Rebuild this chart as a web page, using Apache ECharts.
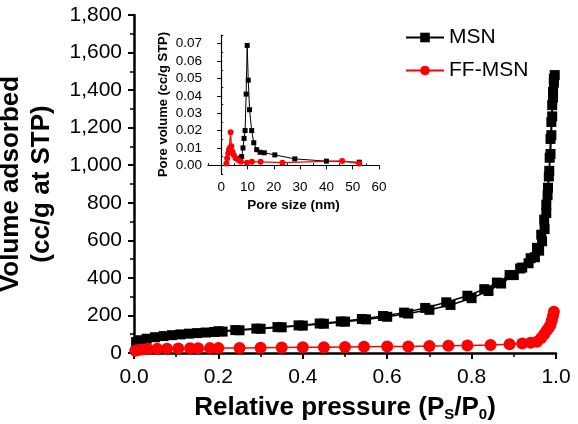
<!DOCTYPE html>
<html>
<head>
<meta charset="utf-8">
<script src="https://cdn.jsdelivr.net/npm/echarts@6/dist/echarts.min.js"></script>
<style>
html,body{margin:0;padding:0;background:#fff;}
#chart{width:578px;height:424px;}
</style>
</head>
<body>
<div id="chart"></div>
<script>
// ---- Main isotherm data ----
const msnAdsX = [0.005,0.015,0.03,0.05,0.07,0.09,0.11,0.13,0.15,0.17,0.19,0.21,0.25,0.30,0.35,0.40,0.45,0.50,0.55,0.60,0.65,0.70,0.75,0.80,0.84,0.87,0.90,0.92,0.94,0.955,0.965,0.972,0.977,0.981,0.984,0.987,0.989,0.991,0.993,0.995];
const msnAdsY = [58,68,76,84,90,95,99,103,106,109,112,114,121,129,137,146,156,167,179,193,210,230,256,292,330,370,415,455,505,560,630,710,790,880,970,1060,1160,1260,1360,1460];
const msnDesX = [0.997,0.995,0.993,0.991,0.989,0.987,0.985,0.983,0.98,0.977,0.973,0.967,0.96,0.95,0.935,0.915,0.89,0.86,0.83,0.79,0.74,0.69,0.64,0.59,0.54,0.49,0.44,0.39,0.34,0.29,0.24,0.2];
const msnDesY = [1480,1440,1390,1320,1230,1140,1040,940,840,745,660,595,545,510,478,450,415,375,340,305,270,240,215,197,181,168,157,147,138,130,122,116];
const ffX = [0.003,0.01,0.02,0.033,0.055,0.078,0.105,0.133,0.152,0.18,0.2,0.25,0.3,0.35,0.4,0.45,0.5,0.545,0.6,0.65,0.7,0.745,0.79,0.845,0.89,0.92,0.94,0.955,0.965,0.972,0.978,0.983,0.987,0.99,0.993,0.995];
const ffY = [12,16,19,21,22,23,24,25,25,26,26,27,28,29,30,31,32,33,34,35,37,38,40,42,46,50,55,60,80,100,120,135,150,175,200,220];

// ---- Inset pore size distribution ----
const poreMsnX = [6.8,7.8,8.3,8.7,9.1,9.5,9.9,10.3,10.8,11.6,12.4,13.5,14.8,16.4,20.4,28,40,52.5];
const poreMsnY = [0.004,0.005,0.010,0.0155,0.020,0.041,0.069,0.049,0.032,0.020,0.013,0.009,0.0075,0.0072,0.006,0.0037,0.0024,0.0018];
const poreFfX = [2.0,2.3,2.7,3.0,3.3,3.6,3.9,4.3,4.8,5.5,6.5,7.5,9.8,11.7,15,23.3,46,52.5];
const poreFfY = [0.001,0.004,0.007,0.009,0.010,0.019,0.011,0.008,0.006,0.004,0.003,0.002,0.0015,0.002,0.002,0.0015,0.0025,0.001];

// ---- Tick values ----
const insetXTicks = [0,10,20,30,40,50,60];
const insetXMinor = [-5,5,15,25,35,45,55];
const insetYTicks = [0,0.01,0.02,0.03,0.04,0.05,0.06,0.07];
const insetYMinor = [-0.005,0.005,0.015,0.025,0.035,0.045,0.055,0.065,0.075];

const zip = (a,b) => a.map((v,i)=>[v,b[i]]);
const FONT = '"Liberation Sans", Arial, sans-serif';
const BLACK = '#000';
const RED = '#ff0000';

const chart = echarts.init(document.getElementById('chart'), null, {renderer:'canvas'});

const mainAxisLine = {show:true, lineStyle:{color:BLACK, width:2.5}};
const insetAxisLine = {show:true, lineStyle:{color:BLACK, width:1.2}};

const option = {
  backgroundColor:'#fff',
  animation:false,
  textStyle:{fontFamily:FONT},
  legend:{
    orient:'vertical', left:400, top:22,
    itemWidth:38, itemHeight:12, itemGap:12,
    textStyle:{fontSize:21, color:BLACK, fontFamily:FONT},
    data:['MSN','FF-MSN']
  },
  grid:[
    {left:134, right:22, top:15, bottom:71, outerBoundsMode:'none', containLabel:false},
    {left:208, right:199, top:35, bottom:250, outerBoundsMode:'none', containLabel:false}
  ],
  xAxis:[
    {gridIndex:0, type:'value', min:0, max:1, interval:0.2,
     axisLine:mainAxisLine,
     axisTick:{show:true, length:6, lineStyle:{width:2, color:BLACK}},
     minorTick:{show:true, splitNumber:2, length:4, lineStyle:{width:1.5, color:BLACK}},
     splitLine:{show:false},
     axisLabel:{fontSize:21, color:BLACK, margin:14, fontFamily:FONT, formatter:v=>v.toFixed(1)},
     name:'{a|Relative pressure (P}{s|S}{a|/P}{s|0}{a|)}',
     nameLocation:'middle', nameGap:39,
     nameTextStyle:{rich:{
       a:{fontSize:26, fontWeight:'bold', color:BLACK, fontFamily:FONT, lineHeight:30},
       s:{fontSize:15, fontWeight:'bold', color:BLACK, fontFamily:FONT, lineHeight:30, padding:[14,0,0,0]}
     }}
    },
    {gridIndex:1, type:'value', min:-5, max:60,
     axisLine:insetAxisLine,
     axisTick:{show:true, length:4, customValues:insetXTicks, lineStyle:{width:1, color:BLACK}},
     splitLine:{show:false},
     axisLabel:{fontSize:13.5, color:BLACK, margin:6, fontFamily:FONT, customValues:insetXTicks},
     name:'Pore size (nm)', nameLocation:'middle', nameGap:24,
     nameTextStyle:{fontSize:13.5, fontWeight:'bold', color:BLACK, fontFamily:FONT}
    },
    {gridIndex:1, type:'value', min:-5, max:60,
     axisLine:{show:false},
     axisTick:{show:true, length:2, customValues:insetXMinor, lineStyle:{width:1, color:BLACK}},
     splitLine:{show:false},
     axisLabel:{show:false}
    }
  ],
  yAxis:[
    {gridIndex:0, type:'value', min:0, max:1800, interval:200,
     axisLine:mainAxisLine,
     axisTick:{show:true, length:6, lineStyle:{width:2, color:BLACK}},
     minorTick:{show:true, splitNumber:2, length:4, lineStyle:{width:1.5, color:BLACK}},
     splitLine:{show:false},
     axisLabel:{fontSize:21, color:BLACK, margin:12, fontFamily:FONT, formatter:v=>v.toLocaleString('en-US')},
     name:'Volume adsorbed\n(cc/g at STP)', nameLocation:'middle', nameGap:77,
     nameTextStyle:{fontSize:26, fontWeight:'bold', color:BLACK, fontFamily:FONT, lineHeight:31}
    },
    {gridIndex:1, type:'value', min:-0.005, max:0.075,
     axisLine:insetAxisLine,
     axisTick:{show:true, length:4, customValues:insetYTicks, lineStyle:{width:1, color:BLACK}},
     splitLine:{show:false},
     axisLabel:{fontSize:13.5, color:BLACK, margin:6, fontFamily:FONT, customValues:insetYTicks, formatter:v=>v.toFixed(2)},
     name:'Pore volume (cc/g STP)', nameLocation:'middle', nameGap:38,
     nameTextStyle:{fontSize:13, fontWeight:'bold', color:BLACK, fontFamily:FONT}
    },
    {gridIndex:1, type:'value', min:-0.005, max:0.075,
     axisLine:{show:false},
     axisTick:{show:true, length:2, customValues:insetYMinor, lineStyle:{width:1, color:BLACK}},
     splitLine:{show:false},
     axisLabel:{show:false}
    }
  ],
  series:[
    {name:'MSN', type:'line', xAxisIndex:0, yAxisIndex:0, data:zip(msnAdsX,msnAdsY),
     symbol:'rect', symbolSize:10, color:BLACK, lineStyle:{color:BLACK, width:1.5}, itemStyle:{color:BLACK}},
    {name:'MSN', type:'line', xAxisIndex:0, yAxisIndex:0, data:zip(msnDesX,msnDesY),
     symbol:'rect', symbolSize:10, color:BLACK, lineStyle:{color:BLACK, width:1.5}, itemStyle:{color:BLACK}},
    {name:'FF-MSN', type:'line', xAxisIndex:0, yAxisIndex:0, data:zip(ffX,ffY),
     symbol:'circle', symbolSize:12, color:RED, lineStyle:{color:RED, width:1.5}, itemStyle:{color:RED}},
    {name:'MSN', type:'line', xAxisIndex:1, yAxisIndex:1, data:zip(poreMsnX,poreMsnY),
     symbol:'rect', symbolSize:5, color:BLACK, lineStyle:{color:BLACK, width:1}, itemStyle:{color:BLACK}},
    {name:'FF-MSN', type:'line', xAxisIndex:1, yAxisIndex:1, data:zip(poreFfX,poreFfY),
     symbol:'circle', symbolSize:6, color:RED, lineStyle:{color:RED, width:1.2}, itemStyle:{color:RED}}
  ]
};
chart.setOption(option);
</script>
</body>
</html>
